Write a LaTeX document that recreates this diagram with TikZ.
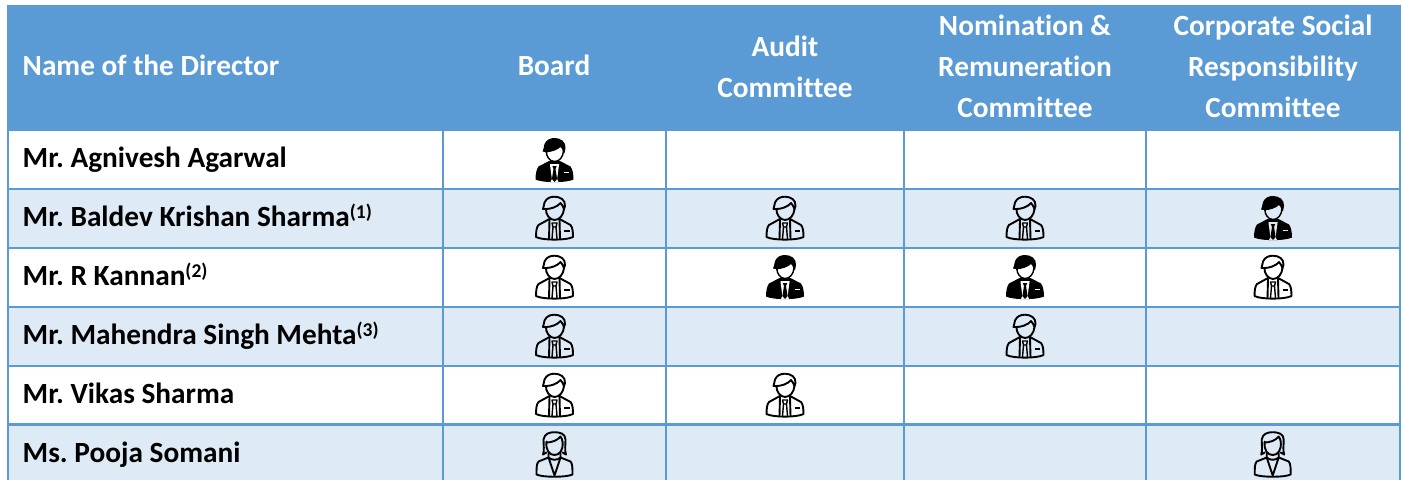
\documentclass[tikz,border=0pt]{standalone}
\usepackage{fontspec}
\setmainfont{Carlito}[Ligatures=CommonOff]
\frenchspacing
\definecolor{hdr}{HTML}{5B9BD5}
\definecolor{rowb}{HTML}{DEEAF6}
\tikzset{
  x=1pt,y=-1pt,
  hdrtext/.style={text=white,font=\fontsize{29.3}{41}\selectfont\bfseries,align=center,inner sep=0pt},
  nametext/.style={text=black,font=\fontsize{29.3}{33}\selectfont\bfseries,anchor=base west,inner sep=0pt},
  gridline/.style={draw=hdr,line width=2.2pt},
  iconline/.style={draw=black,line width=1.9pt,line join=round,line cap=round,fill=none},
  pics/maleo/.style={code={
    \draw[iconline] (-8.5,13) .. controls (-9,18) and (-5,24) .. (0,24) .. controls (5,24) and (9,19) .. (9.5,13);
    \draw[iconline] (-8.5,13) -- (-11.5,13) .. controls (-10.5,11) and (-11,9) .. (-10,6.5) .. controls (-8,2) and (-4,0.7) .. (0,0.7) .. controls (6,0.7) and (11,4) .. (10.5,10) -- (9.5,13) .. controls (8.5,11) and (7.5,8) .. (6,7) .. controls (3,11) and (-4,13) .. (-8.5,13);
    \draw[iconline] (-5,23) -- (-16,29) .. controls (-18,31) and (-18.5,36) .. (-18.5,41) .. controls (-12,44.5) and (12,44.5) .. (18.5,41) .. controls (18.5,36) and (18,31) .. (16,29) -- (5,23);
    \draw[iconline] (-5,24) -- (-5.5,43) (5,24) -- (5.5,43);
    \draw[iconline,line width=1.4pt] (-2.5,27) -- (2.5,27) -- (1.5,31) -- (2.5,43) (-2.5,27) -- (-1.5,31) -- (-2.5,43) (-1.5,31) -- (1.5,31);
    \draw[iconline,line width=2pt,line cap=butt] (9.5,34.5) -- (15,34.5);
  }},
  pics/malef/.style={code={
    \fill[black] (-5.5,23) -- (-16,28.5) .. controls (-18,31) and (-19,36) .. (-19,41.5) .. controls (-12,45) and (12,45) .. (19,41.5) .. controls (19,36) and (18,31) .. (16,28.5) -- (5.5,23) -- cycle;
    \fill[black] (-9,14) -- (-12,13.5) .. controls (-10.5,11) and (-11,9) .. (-10,6) .. controls (-8,1.5) and (-4,0) .. (0,0) .. controls (6,0) and (11.5,3.5) .. (11,10) -- (10,15) -- (-9,15) -- cycle;
    \filldraw[fill=#1,draw=black,line width=1.4pt] (-8,13.5) .. controls (-8.5,18) and (-5,23.5) .. (0,23.5) .. controls (5,23.5) and (8.5,19) .. (9,13) .. controls (8.5,11) and (7.5,9) .. (6,8) .. controls (3,11.5) and (-4,13.5) .. (-8,13.5) -- cycle;
    \fill[#1] (-4.5,26) -- (4.5,26) -- (4.5,27) -- (2.6,41) -- (4,44) -- (-4,44) -- (-2.6,41) -- (-4.5,27) -- cycle;
    \fill[black] (-2.2,28) -- (2.2,28) -- (1,31) -- (2.6,41) -- (0,44) -- (-2.6,41) -- (-1,31) -- cycle;
    \draw[#1,line width=1.6pt] (9.5,34.5) -- (14.5,34.5);
  }},
  pics/femaleo/.style={code={
    \draw[iconline] (-8,10) .. controls (-9,19) and (-5,23.5) .. (0,23.5) .. controls (5,23.5) and (9,19) .. (8,10);
    \draw[iconline] (-8,11) .. controls (-3,11) and (3,9) .. (6,5) .. controls (7,7) and (8,8) .. (8,10);
    \draw[iconline] (-8,21) -- (-11.5,23) .. controls (-10,19) and (-11,14) .. (-11,8) .. controls (-10,2) and (-5,0.7) .. (0,0.7) .. controls (5,0.7) and (11,2) .. (11,8) .. controls (11,14) and (10,19) .. (11.5,23) -- (8,21);
    \draw[iconline] (-6,22) -- (-6,26) -- (-16,30) .. controls (-18,32) and (-18,37) .. (-18,43) .. controls (-12,46) and (12,46) .. (18,43) .. controls (18,37) and (18,32) .. (16,30) -- (6,26) -- (6,22);
    \draw[iconline] (-6,26) -- (0,44) -- (6,26);
    \draw[iconline] (-6,26) .. controls (-3,29) and (3,29) .. (6,26);
  }}
}
\begin{document}
\begin{tikzpicture}
\useasboundingbox (0,0) rectangle (1403,480);
% fills
\fill[hdr] (7,5) rectangle (1401,131);
\foreach \t/\b in {189/248,307/366,425/480} \fill[rowb] (8,\t) rectangle (1400,\b);
% grid
\foreach \y in {188.7,247.7,306.7,365.7,424.5} \draw[gridline] (7,\y) -- (1401,\y);
\foreach \x in {8,442.8,665.8,904,1146,1400} \draw[gridline] (\x,131) -- (\x,480);
% header
\node[hdrtext,anchor=base west] (h0) at (22.5,75.6) {Name of the Director};
\node[hdrtext,anchor=base] (h1) at (554,75.6) {Board};
\node[hdrtext] (h2) at (785,66.6) {Audit\\Committee};
\node[hdrtext] (h3) at (1025,66.1) {Nomination \&\\Remuneration\\Committee};
\node[hdrtext] (h4) at (1273,66.1) {Corporate Social\\Responsibility\\Committee};
% names
\newcommand\supn[1]{\raisebox{8pt}{\fontsize{19.5}{22}\selectfont\bfseries(#1)}}
\node[nametext] (n1) at (22.5,167) {Mr. Agnivesh Agarwal};
\node[nametext] (n2) at (22.5,226) {Mr. Baldev Krishan Sharma\supn{1}};
\node[nametext] (n3) at (22.5,285) {Mr. R Kannan\supn{2}};
\node[nametext] (n4) at (22.5,344) {Mr. Mahendra Singh Mehta\supn{3}};
\node[nametext] (n5) at (22.5,403) {Mr. Vikas Sharma};
\node[nametext] (n6) at (22.5,462) {Ms. Pooja Somani};
% icons
\pic at (554.5,138) {malef=white};
\pic at (554.5,196) {maleo};
\pic at (785,196) {maleo};
\pic at (1025,196) {maleo};
\pic at (1273,196) {malef=rowb};
\pic at (554.5,255) {maleo};
\pic at (785,255) {malef=white};
\pic at (1025,255) {malef=white};
\pic at (1273,255) {maleo};
\pic at (554.5,314) {maleo};
\pic at (1025,314) {maleo};
\pic at (554.5,373) {maleo};
\pic at (785,373) {maleo};
\pic at (554.5,431.5) {femaleo};
\pic at (1272.7,431.5) {femaleo};
\end{tikzpicture}
\end{document}
